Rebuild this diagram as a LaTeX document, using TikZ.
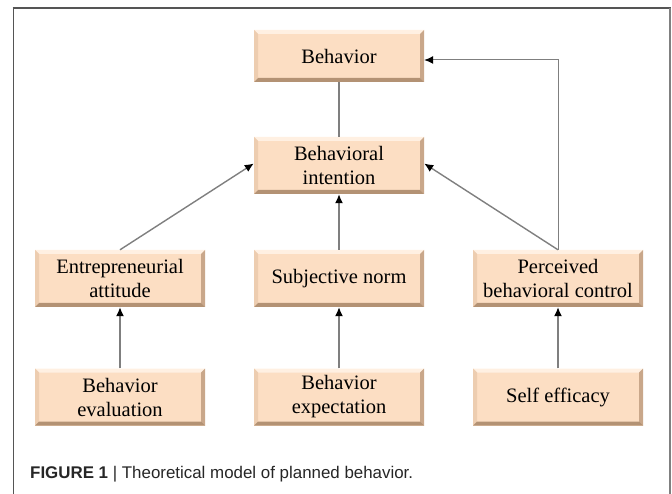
\documentclass[tikz,border=0pt]{standalone}
\usepackage{fontspec}
\setmainfont{Liberation Serif}
\newfontfamily\capfont{Liberation Sans}
\usetikzlibrary{arrows.meta}

\definecolor{peach}{HTML}{FCDEC3}
\definecolor{bevtop}{HTML}{FFF0E2}
\definecolor{bevleft}{HTML}{EDCDB0}
\definecolor{bevright}{HTML}{C9A78A}
\definecolor{bevbot}{HTML}{B39274}
\definecolor{linkgray}{HTML}{7F7F7F}
\definecolor{framegray}{HTML}{555555}

\tikzset{
  bevelbox/.style={
    rectangle, minimum width=170pt, minimum height=56pt, inner sep=0pt,
    align=center, font=\fontsize{20.5pt}{24pt}\selectfont,
    fill=peach,
    path picture={
      \def\bw{4pt}
      \fill[bevtop] (path picture bounding box.north west) -- (path picture bounding box.north east)
        -- ([xshift=-\bw,yshift=-\bw]path picture bounding box.north east)
        -- ([xshift=\bw,yshift=-\bw]path picture bounding box.north west) -- cycle;
      \fill[bevleft] (path picture bounding box.north west) -- (path picture bounding box.south west)
        -- ([xshift=\bw,yshift=\bw]path picture bounding box.south west)
        -- ([xshift=\bw,yshift=-\bw]path picture bounding box.north west) -- cycle;
      \fill[bevright] (path picture bounding box.north east) -- (path picture bounding box.south east)
        -- ([xshift=-\bw,yshift=\bw]path picture bounding box.south east)
        -- ([xshift=-\bw,yshift=-\bw]path picture bounding box.north east) -- cycle;
      \fill[bevbot] (path picture bounding box.south west) -- (path picture bounding box.south east)
        -- ([xshift=-\bw,yshift=\bw]path picture bounding box.south east)
        -- ([xshift=\bw,yshift=\bw]path picture bounding box.south west) -- cycle;
    }
  },
  link/.style={draw=linkgray, line width=1.4pt},
  arrowlink/.style={link, -{Latex[length=9pt,width=8pt,black]}}
}

\begin{document}
\begin{tikzpicture}[x=1pt,y=-1pt]
  \useasboundingbox (0,0) rectangle (672,494);

  % figure frame
  \draw[framegray, line width=0.9pt] (13,494) -- (13,8);
  \draw[framegray, line width=1.6pt] (12.5,8) -- (670.5,8);
  \draw[gray, line width=1.3pt] (670,8) -- (670,494);

  % boxes
  \node[bevelbox, minimum height=52pt] (beh) at (339,56) {Behavior};
  \node[bevelbox, minimum height=57pt] (int) at (339,165.5) {Behavioral\\intention};
  \node[bevelbox, minimum height=57pt] (att) at (120,278.5) {Entrepreneurial\\attitude};
  \node[bevelbox, minimum height=57pt] (norm) at (339,278.5) {Subjective norm};
  \node[bevelbox, minimum height=57pt] (pbc) at (558,278.5) {Perceived\\behavioral control};
  \node[bevelbox, minimum height=57pt] (eval) at (120,397) {Behavior\\evaluation};
  \node[bevelbox, minimum height=57pt] (expt) at (339,397) {Behavior\\expectation};
  \node[bevelbox, minimum height=57pt] (self) at (558,397) {Self efficacy};

  % connectors
  \draw[link] (beh.south) -- (int.north);
  \draw[arrowlink] (att.north) -- ([yshift=2pt]int.west);
  \draw[arrowlink] (norm.north) -- (int.south);
  \draw[arrowlink] (pbc.north) -- ([yshift=2pt]int.east);
  \draw[arrowlink, line width=1pt] (pbc.north) |- ([yshift=-4pt]beh.east);
  \draw[arrowlink] (eval.north) -- (att.south);
  \draw[arrowlink] (expt.north) -- (norm.south);
  \draw[arrowlink] (self.north) -- (pbc.south);

  % caption
  \node[anchor=base west, inner sep=0pt, font=\capfont\fontsize{16.9pt}{20pt}\selectfont, text=black!85]
    (cap) at (30,478) {\textbf{FIGURE 1} | Theoretical model of planned behavior.};
\end{tikzpicture}
\end{document}
